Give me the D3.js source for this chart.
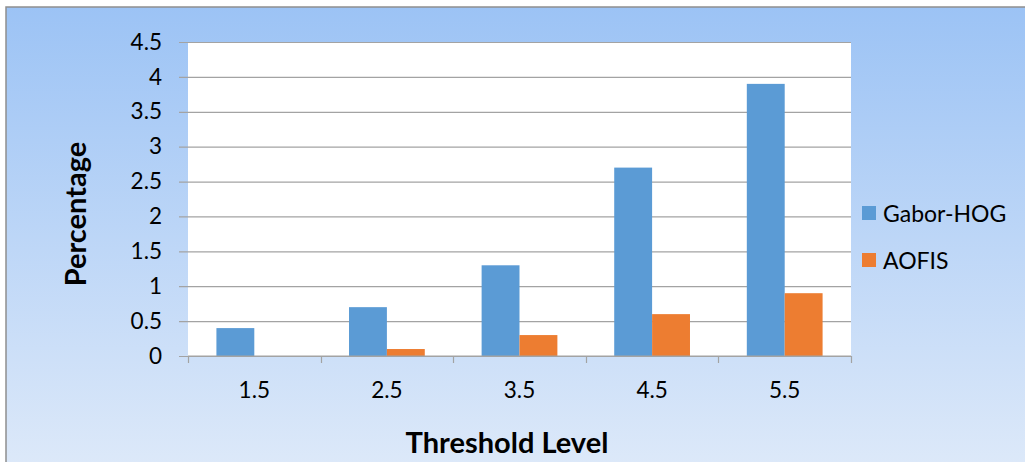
<!DOCTYPE html>
<html>
<head>
<meta charset="utf-8">
<script src="https://cdn.jsdelivr.net/npm/d3@7/dist/d3.min.js"></script>
<style>
  html, body { margin: 0; padding: 0; background: #ffffff; }
  svg { display: block; }
  text { font-family: Lato, "Open Sans", sans-serif; fill: #000; }
</style>
</head>
<body>
<svg id="chart" width="1025" height="462"></svg>
<script>
// Threshold levels on the x axis
const categories = ["1.5", "2.5", "3.5", "4.5", "5.5"];
// Series names and their percentages per threshold
const seriesNames = ["Gabor-HOG", "AOFIS"];
const gaborHog = [0.4, 0.7, 1.3, 2.7, 3.9];
const aofis = [0, 0.1, 0.3, 0.6, 0.9];
// Value axis ticks
const yTicks = [0, 0.5, 1, 1.5, 2, 2.5, 3, 3.5, 4, 4.5];

const colors = { "Gabor-HOG": "#5B9BD5", "AOFIS": "#ED7D31" };
const rows = categories.map((c, i) => ({ cat: c, "Gabor-HOG": gaborHog[i], "AOFIS": aofis[i] }));

const svg = d3.select("#chart");
const W = 1025, H = 462;
const plot = { left: 188, right: 851, top: 42, bottom: 356 };

// Chart area background
const defs = svg.append("defs");
const grad = defs.append("linearGradient")
  .attr("id", "bg").attr("x1", 0).attr("y1", 0).attr("x2", 0).attr("y2", 1);
grad.append("stop").attr("offset", "0%").attr("stop-color", "#9CC3F5");
grad.append("stop").attr("offset", "100%").attr("stop-color", "#DDE9F9");

svg.append("rect")
  .attr("x", 6).attr("y", 7).attr("width", W).attr("height", H)
  .attr("fill", "url(#bg)")
  .attr("stroke", "#8E8E8E").attr("stroke-width", 1.5);

// Plot area
svg.append("rect")
  .attr("x", plot.left).attr("y", plot.top)
  .attr("width", plot.right - plot.left).attr("height", plot.bottom - plot.top)
  .attr("fill", "#ffffff");

const x0 = d3.scaleBand().domain(categories).range([plot.left, plot.right]).padding(0);
const x1 = d3.scaleBand().domain(seriesNames).range([0, x0.bandwidth()])
  .paddingInner(0).paddingOuter(0.75);
const y = d3.scaleLinear().domain([0, 4.5]).range([plot.bottom, plot.top]);

// Horizontal gridlines with small outer ticks on the left
const yAxis = d3.axisLeft(y).tickValues(yTicks)
  .tickSize(-(plot.right - plot.left)).tickSizeOuter(0).tickPadding(17)
  .tickFormat(d => String(d));
const gy = svg.append("g").attr("transform", `translate(${plot.left},0)`).call(yAxis);
gy.select(".domain").remove();
gy.selectAll(".tick line")
  .attr("x1", -9)
  .attr("stroke", "#A3A3A3").attr("stroke-width", 1.2);
gy.selectAll(".tick text")
  .attr("x", -26)
  .style("font-size", "22.5px").style("font-family", "Lato, sans-serif")
  .attr("fill", "#000");

// Bars
const groups = svg.append("g").selectAll("g").data(rows).join("g")
  .attr("transform", d => `translate(${x0(d.cat)},0)`);
groups.selectAll("rect")
  .data(d => seriesNames.map(s => ({ s, v: d[s] })))
  .join("rect")
  .attr("x", d => x1(d.s))
  .attr("y", d => y(d.v))
  .attr("width", x1.bandwidth())
  .attr("height", d => y(0) - y(d.v))
  .attr("fill", d => colors[d.s]);

// Category axis
const xAxis = d3.axisBottom(x0).tickSize(0).tickPadding(26);
const gx = svg.append("g").attr("transform", `translate(0,${plot.bottom})`).call(xAxis);
gx.select(".domain").remove();
gx.selectAll(".tick text")
  .style("font-size", "22.5px").style("font-family", "Lato, sans-serif")
  .attr("fill", "#000");
svg.append("line")
  .attr("x1", plot.left).attr("x2", plot.right)
  .attr("y1", plot.bottom).attr("y2", plot.bottom)
  .attr("stroke", "#A3A3A3").attr("stroke-width", 1.2);
// Tick marks at the category boundaries
const edges = categories.map(c => x0(c)).concat([x0.range()[1]]);
svg.append("g").selectAll("line").data(edges).join("line")
  .attr("x1", d => Math.round(d) + 0.5).attr("x2", d => Math.round(d) + 0.5)
  .attr("y1", plot.bottom).attr("y2", plot.bottom + 7)
  .attr("stroke", "#A3A3A3").attr("stroke-width", 1.2);

// Axis titles
svg.append("text")
  .attr("transform", "translate(86,214) rotate(-90)")
  .attr("text-anchor", "middle")
  .style("font-size", "29px").style("font-weight", "bold")
  .text("Percentage");
svg.append("text")
  .attr("x", 507).attr("y", 453)
  .attr("text-anchor", "middle")
  .style("font-size", "29px").style("font-weight", "bold")
  .text("Threshold Level");

// Legend
const legend = svg.append("g").selectAll("g").data(seriesNames).join("g")
  .attr("transform", (d, i) => `translate(862,${206 + i * 47})`);
legend.append("rect").attr("width", 14).attr("height", 14).attr("fill", d => colors[d]);
legend.append("text")
  .attr("x", 21).attr("y", 7).attr("dominant-baseline", "central")
  .style("font-size", "23px")
  .text(d => d);
</script>
</body>
</html>
